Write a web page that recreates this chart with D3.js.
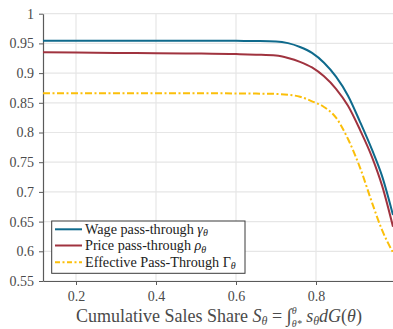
<!DOCTYPE html>
<html><head><meta charset="utf-8">
<script src="https://cdn.jsdelivr.net/npm/d3@7"></script>
<style>body{margin:0;background:#fff}svg{display:block}
svg text{font-family:"Liberation Serif","DejaVu Serif","Times New Roman",serif;}
</style>
</head><body>
<svg id="c" width="393" height="329"></svg>
<script>
const shares = [0.1175,0.2,0.3,0.4,0.5,0.6,0.65,0.7,0.73,0.76,0.79,0.82,0.85,0.88,0.91,0.94,0.965,0.9925];
const wagePT = [0.9545,0.9545,0.9545,0.9545,0.9545,0.9543,0.954,0.9533,0.9505,0.944,0.934,0.9175,0.894,0.862,0.818,0.771,0.727,0.661];
const pricePT = [0.935,0.9345,0.934,0.9335,0.933,0.932,0.931,0.9295,0.9255,0.919,0.9095,0.8945,0.8735,0.845,0.8045,0.7587,0.711,0.6414];
const effPT = [0.866,0.866,0.866,0.866,0.866,0.8658,0.8655,0.865,0.8635,0.8603,0.8525,0.843,0.825,0.789,0.741,0.682,0.636,0.598];
const xTicks = [0.2,0.4,0.6,0.8];
const yTicks = [0.55,0.6,0.65,0.7,0.75,0.8,0.85,0.9,0.95,1];
const yTickLabels = ["0.55","0.6","0.65","0.7","0.75","0.8","0.85","0.9","0.95","1"];

const svg = d3.select("#c");
const L = 43, R = 393, T = 13.7, B = 281;
const x = d3.scaleLinear().domain([0.1175,0.9925]).range([L,R]);
const y = d3.scaleLinear().domain([0.55,1]).range([B,T]);

// grid
svg.append("g").selectAll("line").data(xTicks).join("line")
  .attr("x1",d=>x(d)).attr("x2",d=>x(d)).attr("y1",T).attr("y2",B)
  .attr("stroke","#e6e6e6").attr("stroke-width",1.2);
svg.append("g").selectAll("line").data(yTicks).join("line")
  .attr("x1",L).attr("x2",R).attr("y1",d=>y(d)).attr("y2",d=>y(d))
  .attr("stroke","#e6e6e6").attr("stroke-width",1.2);

// axes
const xAxis = d3.axisBottom(x).tickValues(xTicks).tickSize(4).tickSizeOuter(0).tickPadding(6).tickFormat(d3.format(".1f"));
const yAxis = d3.axisLeft(y).tickValues(yTicks).tickSize(4).tickSizeOuter(0).tickPadding(5).tickFormat((d,i)=>yTickLabels[i]);
const gx = svg.append("g").attr("transform",`translate(0,${B})`).call(xAxis);
const gy = svg.append("g").attr("transform",`translate(${L},0)`).call(yAxis);
[gx,gy].forEach(g=>{
  g.attr("font-family",null);
  g.select(".domain").attr("stroke","#5a5a5a").attr("stroke-width",1.2);
  g.selectAll(".tick line").attr("stroke","#5a5a5a");
  g.selectAll(".tick text").attr("font-size",14).attr("fill","#4a4a4a");
});

// lines
const series = [
  {vals: wagePT, color:"#0f6a8c", dash:null},
  {vals: pricePT, color:"#a0333f", dash:null},
  {vals: effPT, color:"#fbbf0a", dash:"7,2.5,2,2.5"}
];
const line = d3.line().x(d=>x(d[0])).y(d=>y(d[1])).curve(d3.curveMonotoneX);
svg.append("defs").append("clipPath").attr("id","clip").append("rect")
  .attr("x",L).attr("y",0).attr("width",R-L).attr("height",B);
const gl = svg.append("g").attr("clip-path","url(#clip)");
series.slice().reverse().forEach(s=>{
  gl.append("path").datum(shares.map((v,i)=>[v,s.vals[i]]))
    .attr("d",line).attr("fill","none").attr("stroke",s.color)
    .attr("stroke-width",2).attr("stroke-dasharray",s.dash);
});

// legend
const lg = svg.append("g");
lg.append("rect").attr("x",51.7).attr("y",221).attr("width",193.3).attr("height",52.3)
  .attr("fill","#fff").attr("stroke","#3a3a3a").attr("stroke-width",1);
const legendItems = [
  {label:"Wage pass-through ", sym:"γ", color:"#0f6a8c", dash:null},
  {label:"Price pass-through ", sym:"ρ", color:"#a0333f", dash:null},
  {label:"Effective Pass-Through ", sym:"Γ", color:"#fbbf0a", dash:"5,2.5,2,2.5", upright:true}
];
const rowY = [229.3,245.5,262.3];
legendItems.forEach((it,i)=>{
  lg.append("line").attr("x1",55).attr("x2",82).attr("y1",rowY[i]).attr("y2",rowY[i])
    .attr("stroke",it.color).attr("stroke-width",2).attr("stroke-dasharray",it.dash);
  const t = lg.append("text").attr("x",85).attr("y",rowY[i]+4.5)
    .attr("font-size",14.2).attr("fill","#222");
  t.append("tspan").text(it.label);
  t.append("tspan").text(it.sym).attr("font-style",it.upright?"normal":"italic");
  t.append("tspan").text("θ").attr("font-style","italic").attr("font-size",10).attr("dy",2.5);
});

// x label
const xl = svg.append("text").attr("x",219).attr("y",321.5).attr("text-anchor","middle")
  .attr("font-size",18).attr("fill","#4a4a4a");
xl.append("tspan").text("Cumulative Sales Share ");
xl.append("tspan").text("S").attr("font-style","italic");
xl.append("tspan").text("θ").attr("font-style","italic").attr("font-size",12).attr("dy",3);
xl.append("tspan").text(" = ").attr("dy",-3);
xl.append("tspan").text("∫").attr("font-size",19);
xl.append("tspan").text("θ").attr("font-style","italic").attr("font-size",10).attr("dy",-8);
xl.append("tspan").text("θ*").attr("font-style","italic").attr("font-size",10).attr("dx",-5).attr("dy",13);
xl.append("tspan").text(" s").attr("font-style","italic").attr("dy",-5);
xl.append("tspan").text("θ").attr("font-style","italic").attr("font-size",12).attr("dy",3);
xl.append("tspan").text("dG").attr("font-style","italic").attr("dy",-3);
xl.append("tspan").text("(");
xl.append("tspan").text("θ").attr("font-style","italic");
xl.append("tspan").text(")");
</script>
</body></html>
